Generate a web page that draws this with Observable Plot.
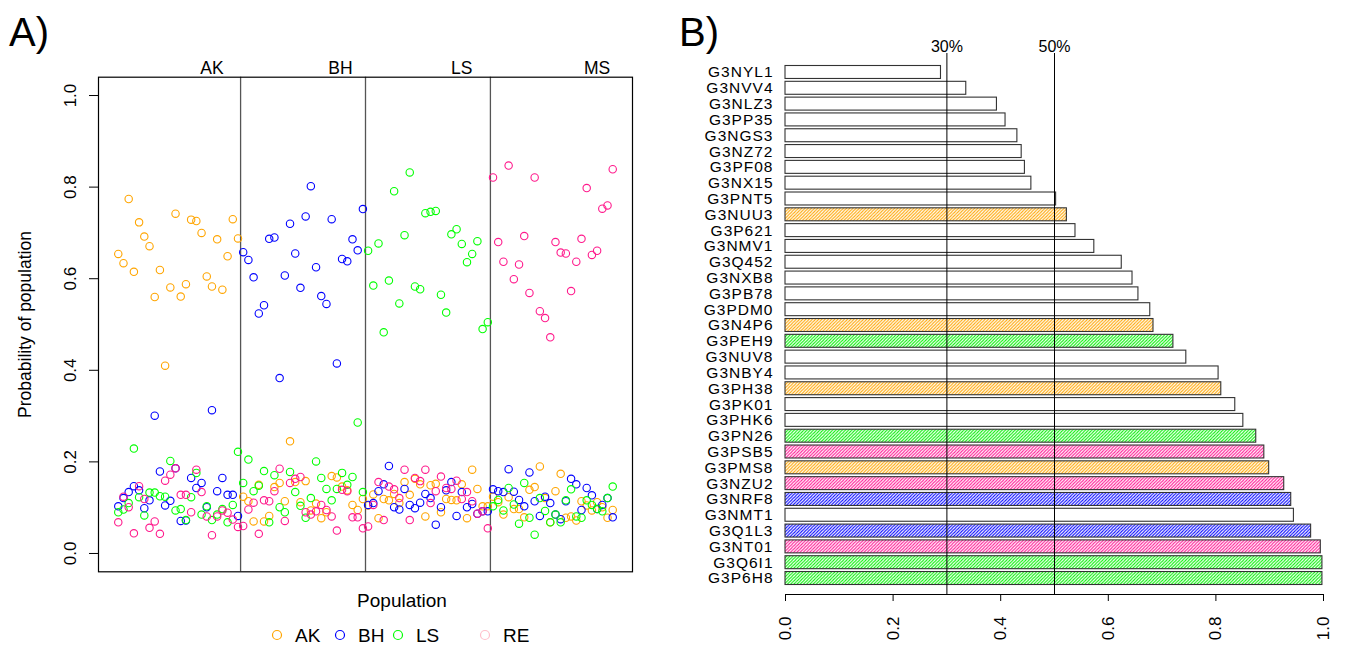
<!DOCTYPE html>
<html><head><meta charset="utf-8">
<script src="https://cdn.jsdelivr.net/npm/d3@7"></script>
<script src="https://cdn.jsdelivr.net/npm/@observablehq/plot@0.6"></script>
<style>
body{margin:0;background:#fff;font-family:"Liberation Sans",Arial,Helvetica,sans-serif;color:#000;}
#wrap{position:relative;width:1345px;height:647px;overflow:hidden;background:#fff;}
.abs{position:absolute;}
</style></head><body>
<div id="wrap">
<svg id="defs" width="0" height="0" style="position:absolute"></svg>
<div class="abs" id="panelA" style="left:0;top:0"></div>
<div class="abs" id="panelB" style="left:690px;top:0"></div>
<div class="abs" style="left:9px;top:12px;font-size:40px;line-height:40px">A)</div>
<div class="abs" style="left:679px;top:12px;font-size:40px;line-height:40px">B)</div>
<div class="abs" id="xlabA" style="left:302px;top:590px;width:200px;text-align:center;font-size:19px">Population</div>
<div class="abs" id="legendA" style="left:260px;top:622px"></div>
</div>
<script>
// ---------- Panel A data ----------
const popNames = ["AK", "BH", "LS", "RE"];
const groupNames = ["AK", "BH", "LS", "MS"];
const groupSizes = [24, 24, 24, 24];
const groupLabelPos = [19, 43.7, 67, 93];
const probAK = [
0.654,0.634,0.774,0.615,0.723,0.692,0.671,0.560,0.619,0.410,0.581,0.742,0.561,0.588,0.729,0.726,0.700,0.605,0.583,0.686,0.576,0.649,0.730,0.688,
0.124,0.114,0.070,0.150,0.070,0.082,0.145,0.154,0.114,0.245,0.156,0.112,0.158,0.094,0.109,0.077,0.090,0.169,0.166,0.146,0.138,0.106,0.095,0.119,
0.105,0.129,0.077,0.119,0.116,0.130,0.110,0.156,0.128,0.163,0.151,0.081,0.149,0.152,0.090,0.119,0.117,0.116,0.151,0.077,0.183,0.141,0.103,0.103,
0.124,0.112,0.085,0.123,0.097,0.097,0.079,0.139,0.145,0.190,0.121,0.068,0.136,0.174,0.078,0.081,0.072,0.114,0.105,0.094,0.112,0.101,0.078,0.095];
const probBH = [
0.103,0.121,0.134,0.147,0.138,0.099,0.116,0.301,0.179,0.105,0.115,0.186,0.071,0.072,0.165,0.143,0.154,0.101,0.313,0.136,0.165,0.128,0.128,0.082,
0.658,0.641,0.603,0.524,0.542,0.687,0.690,0.383,0.607,0.720,0.655,0.580,0.736,0.802,0.625,0.562,0.545,0.730,0.415,0.643,0.638,0.686,0.662,0.752,
0.106,0.110,0.136,0.151,0.191,0.101,0.096,0.141,0.106,0.099,0.111,0.130,0.121,0.063,0.101,0.138,0.156,0.082,0.134,0.101,0.108,0.087,0.092,0.092,
0.140,0.136,0.134,0.184,0.135,0.117,0.103,0.177,0.114,0.082,0.124,0.110,0.085,0.075,0.114,0.163,0.151,0.095,0.143,0.127,0.097,0.106,0.121,0.079];
const probLS = [
0.090,0.096,0.110,0.229,0.123,0.083,0.133,0.133,0.125,0.124,0.202,0.094,0.097,0.073,0.123,0.176,0.085,0.103,0.073,0.085,0.097,0.068,0.106,0.222,
0.154,0.205,0.136,0.148,0.180,0.068,0.171,0.101,0.090,0.178,0.134,0.104,0.078,0.121,0.201,0.165,0.141,0.116,0.141,0.176,0.150,0.167,0.286,0.134,
0.661,0.585,0.677,0.483,0.596,0.791,0.546,0.695,0.832,0.583,0.577,0.743,0.746,0.748,0.565,0.526,0.697,0.708,0.676,0.636,0.654,0.682,0.490,0.505,
0.103,0.117,0.094,0.143,0.107,0.065,0.154,0.078,0.041,0.121,0.093,0.068,0.085,0.068,0.116,0.140,0.081,0.078,0.116,0.106,0.097,0.092,0.121,0.146];
const probRE = [
0.068,0.124,0.101,0.044,0.147,0.119,0.056,0.070,0.043,0.159,0.172,0.186,0.128,0.128,0.090,0.183,0.134,0.081,0.040,0.081,0.094,0.089,0.074,0.058,
0.060,0.096,0.111,0.043,0.116,0.114,0.136,0.185,0.071,0.154,0.163,0.167,0.090,0.085,0.092,0.106,0.095,0.081,0.050,0.139,0.136,0.079,0.079,0.055,
0.059,0.106,0.156,0.073,0.146,0.140,0.121,0.183,0.073,0.165,0.158,0.183,0.110,0.136,0.168,0.143,0.141,0.159,0.119,0.134,0.114,0.087,0.092,0.055,
0.821,0.680,0.637,0.847,0.599,0.631,0.693,0.569,0.821,0.529,0.514,0.472,0.680,0.657,0.655,0.573,0.637,0.687,0.798,0.652,0.661,0.753,0.760,0.839];
const yTicksA = [0, 0.2, 0.4, 0.6, 0.8, 1.0];
const pointColors = ["#FFA500", "#0000FF", "#00FF00", "#FF1A8C"];
const legendColors = ["#FFA500", "#0000FF", "#00FF00", "#FFC0CB"];

// ---------- Panel B data ----------
const genes = ["G3NYL1","G3NVV4","G3NLZ3","G3PP35","G3NGS3","G3NZ72","G3PF08","G3NX15","G3PNT5","G3NUU3",
"G3P621","G3NMV1","G3Q452","G3NXB8","G3PB78","G3PDM0","G3N4P6","G3PEH9","G3NUV8","G3NBY4",
"G3PH38","G3PK01","G3PHK6","G3PN26","G3PSB5","G3PMS8","G3NZU2","G3NRF8","G3NMT1","G3Q1L3",
"G3NT01","G3Q6I1","G3P6H8"];
const geneValues = [0.289,0.336,0.393,0.409,0.431,0.439,0.445,0.457,0.503,0.523,
0.539,0.574,0.625,0.645,0.656,0.678,0.684,0.721,0.745,0.805,
0.810,0.836,0.851,0.875,0.890,0.899,0.927,0.940,0.945,0.977,
0.995,0.998,0.998];
const geneGroup = ["none","none","none","none","none","none","none","none","none","AK",
"none","none","none","none","none","none","AK","LS","none","none",
"AK","none","none","LS","RE","AK","RE","BH","none","BH",
"RE","LS","LS"];
const refLines = [0.3, 0.5];
const refLabels = ["30%", "50%"];
const xTicksB = [0, 0.2, 0.4, 0.6, 0.8, 1.0];
const hatchColors = {AK: "#FFA500", BH: "#0000FF", LS: "#00F000", RE: "#FF1493"};

// ---------- hatch patterns ----------
const defs = d3.select("#defs").append("defs");
Object.entries(hatchColors).forEach(([k, c]) => {
  const s = 3.2;
  const p = defs.append("pattern").attr("id", "hatch-" + k)
    .attr("patternUnits", "userSpaceOnUse").attr("width", s).attr("height", s);
  p.append("rect").attr("width", s).attr("height", s).attr("fill", "white");
  p.append("path").attr("d", `M${-s/4},${s/4} L${s/4},${-s/4} M0,${s} L${s},0 M${s*0.75},${s*1.25} L${s*1.25},${s*0.75}`)
    .attr("stroke", c).attr("stroke-width", 1);
});

// ---------- Panel A ----------
const points = [];
[probAK, probBH, probLS, probRE].forEach((arr, k) => arr.forEach((v, i) => points.push({ind: i + 1, prob: v, pop: popNames[k]})));
const nInd = probAK.length;
const breaks = d3.cumsum(groupSizes).slice(0, -1).map(b => b + 0.5);
const padX = 0.04 * (nInd - 1);

const plotA = Plot.plot({
  width: 690, height: 647,
  marginLeft: 98, marginRight: 58, marginTop: 76.7, marginBottom: 75.7,
  x: {domain: [1 - padX, nInd + padX], axis: null},
  y: {domain: [-0.04, 1.04], axis: null},
  color: {domain: popNames, range: pointColors},
  style: {fontFamily: "'Liberation Sans', Arial, sans-serif", fontSize: "16px", color: "black", background: "transparent"},
  marks: [
    Plot.ruleX(breaks, {stroke: "#555", strokeWidth: 1.3}),
    Plot.dot(points, {x: "ind", y: "prob", stroke: "pop", r: 3.7, strokeWidth: 1.1}),
    Plot.frame({stroke: "black", strokeWidth: 1.2}),
    Plot.axisY({ticks: yTicksA, tickFormat: d3.format(".1f"), tickSize: 9, tickPadding: 14, tickRotate: -90,
      fontSize: 17, label: null}),
    Plot.text(["Probability of population"], {frameAnchor: "left", dx: -80, rotate: -90, textAnchor: "middle", lineAnchor: "top", fontSize: 17.5}),
    Plot.text(groupNames, {x: (d, i) => groupLabelPos[i], text: d => d, frameAnchor: "top", dy: -3, lineAnchor: "bottom", fontSize: 17.5})
  ]
});
document.getElementById("panelA").appendChild(plotA);

// legend
const lg = d3.select("#legendA").append("svg").attr("width", 300).attr("height", 26);
const legendX = [17, 80, 138, 225];
popNames.forEach((n, i) => {
  lg.append("circle").attr("cx", legendX[i]).attr("cy", 13).attr("r", 4.5).attr("fill", "none").attr("stroke", legendColors[i]).attr("stroke-width", 1.2);
  lg.append("text").attr("x", legendX[i] + 18).attr("y", 19.5).attr("font-size", 19).attr("font-family", "'Liberation Sans', Arial, sans-serif").text(n);
});

// ---------- Panel B ----------
const bars = genes.map((g, i) => ({gene: g, value: geneValues[i], grp: geneGroup[i]}));
const barMarks = ["none", "AK", "BH", "LS", "RE"].map(k => Plot.barX(bars.filter(d => d.grp === k), {
  y: "gene", x: "value", fill: k === "none" ? "white" : `url(#hatch-${k})`, stroke: "#333", strokeWidth: 1.1
}));
const plotB = Plot.plot({
  width: 655, height: 647,
  marginLeft: 95, marginRight: 22, marginTop: 53, marginBottom: 53,
  x: {domain: [0, 1], axis: null},
  y: {domain: genes, range: [65.5, 584.5], paddingInner: 0.18, paddingOuter: 0, round: false, axis: null},
  style: {fontFamily: "'Liberation Sans', Arial, sans-serif", fontSize: "16px", color: "black", background: "transparent"},
  marks: [
    ...barMarks,
    Plot.ruleX(refLines, {stroke: "black", strokeWidth: 1}),
    Plot.text(refLabels, {x: (d, i) => refLines[i], text: d => d, frameAnchor: "top", dy: -2, lineAnchor: "bottom", fontSize: 16}),
    Plot.frame({anchor: "bottom", stroke: "black"}),
    Plot.axisX({ticks: xTicksB, tickFormat: d3.format(".1f"), tickSize: 7, tickPadding: 15, tickRotate: -90, fontSize: 17, label: null}),
    Plot.axisY({tickSize: 0, tickPadding: 12, fontSize: 15.5, label: null})
  ]
});
d3.select(plotB).selectAll("g[aria-label='y-axis tick label'] text").style("letter-spacing", "1px");
document.getElementById("panelB").appendChild(plotB);
</script>
</body></html>
